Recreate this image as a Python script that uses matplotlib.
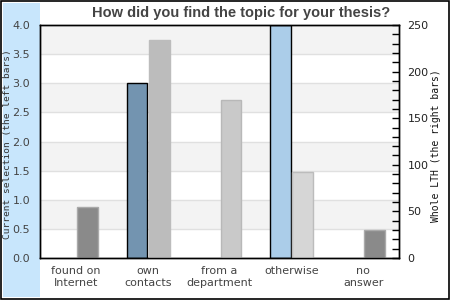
import matplotlib.pyplot as plt
from matplotlib.patches import Rectangle
from matplotlib.ticker import MultipleLocator

categories = ["found on\nInternet", "own\ncontacts", "from a\ndepartment", "otherwise", "no\nanswer"]
current_values = [0, 3, 0, 4, 0]
whole_values = [55, 234, 170, 92, 30]

current_colors = ["#7394b0", "#7394b0", "#7394b0", "#abcde9", "#7394b0"]
whole_colors = ["#8a8a8a", "#bcbcbc", "#c9c9c9", "#d6d6d6", "#8a8a8a"]
whole_edges = ["#aaaaaa", "#bcbcbc", "#b8b8b8", "#bcbcbc", "#aaaaaa"]

fig = plt.figure(figsize=(4.5, 3), dpi=100)
fig.patches.append(Rectangle((3 / 450, 3 / 300), 37 / 450, 294 / 300, transform=fig.transFigure,
                             facecolor="#c8e6fc", edgecolor="none", zorder=-1))
fig.patches.append(Rectangle((0.002, 0.002), 0.996, 0.994, transform=fig.transFigure,
                             fill=False, edgecolor="black", linewidth=1.2, zorder=5))

ax = fig.add_axes([40 / 450, 42 / 300, 359 / 450, 233 / 300])
ax.set_xlim(-0.5, len(categories) - 0.5)
ax.set_ylim(0, 4)
for i in range(8):
    lo = i * 0.5
    ax.axhspan(lo, lo + 0.5, color="#f3f3f3" if i % 2 else "white", zorder=0, lw=0)
    ax.axhline(lo, color="#e0e0e0", lw=1, zorder=0.5)

xs = range(len(categories))
w = 0.29
for x, v, c in zip(xs, current_values, current_colors):
    if v > 0:
        ax.bar(x - 0.15, v, width=w, color=c, edgecolor="black", linewidth=1, zorder=2)

ax.yaxis.set_major_locator(MultipleLocator(0.5))
ax.yaxis.set_major_formatter(lambda v, p: f"{v:.1f}")
ax.tick_params(axis="y", length=0, pad=7, labelsize=8, labelcolor="#444444")
ax.set_xticks(list(xs))
ax.set_xticklabels(categories)
ax.tick_params(axis="x", length=0, pad=6, labelsize=8, labelcolor="#444444")
for s in ax.spines.values():
    s.set_color("black")
    s.set_linewidth(1)

ax2 = ax.twinx()
ax2.set_ylim(0, 250)
for x, v, c, e in zip(xs, whole_values, whole_colors, whole_edges):
    ax2.bar(x + 0.16, v, width=w, color=c, edgecolor=e, linewidth=1, zorder=2)
ax2.yaxis.set_major_locator(MultipleLocator(50))
ax2.yaxis.set_minor_locator(MultipleLocator(10))
ax2.tick_params(axis="y", which="both", direction="in", length=5, width=1,
                pad=6, labelsize=8, labelcolor="#222222")
for s in ax2.spines.values():
    s.set_color("black")
    s.set_linewidth(1)

fig.text(0.535, 0.958, "How did you find the topic for your thesis?", ha="center", va="center",
         family="Liberation Sans", fontsize=10.5, fontweight="bold", color="#444444")
fig.text(7.5 / 450, 0.52, "Current selection (the left bars)", rotation=90, ha="center", va="center",
         family="DejaVu Sans Mono", fontsize=6.8, color="#333333")
fig.text(436 / 450, 0.513, "Whole LTH (the right bars)", rotation=90, ha="center", va="center",
         family="DejaVu Sans Mono", fontsize=7, color="#111111")

fig.savefig("out.png", dpi=100)
